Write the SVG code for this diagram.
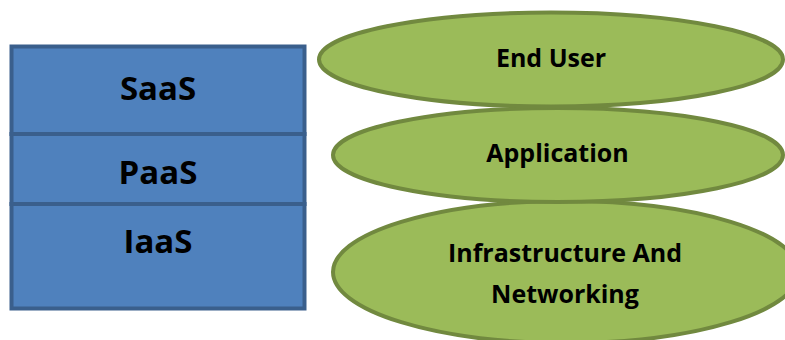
<svg xmlns="http://www.w3.org/2000/svg" width="785" height="340" viewBox="0 0 785 340">
<style>
.box{fill:#4F81BD;stroke:#3A5F8C;stroke-width:4}
.ell{fill:#9BBB59;stroke:#71893F;stroke-width:4}
.bt{font-family:"Open Sans","DejaVu Sans",sans-serif;font-weight:bold;font-size:33px;fill:#000;text-anchor:middle}
.et{font-family:"Open Sans","DejaVu Sans",sans-serif;font-weight:bold;font-size:25px;fill:#000;text-anchor:middle}
</style>
<rect width="785" height="340" fill="#fff"/>
<g id="saas"><rect class="box" x="11.5" y="46.5" width="293" height="87.5"/><text class="bt" x="158" y="100">SaaS</text></g>
<g id="paas"><rect class="box" x="11.5" y="134" width="293" height="70"/><text class="bt" x="158" y="184">PaaS</text></g>
<g id="iaas"><rect class="box" x="11.5" y="204" width="293" height="104.5"/><text class="bt" x="158" y="253">IaaS</text></g>
<g id="infra"><ellipse class="ell" cx="566" cy="272" rx="233" ry="71"/><text class="et" x="565" y="262">Infrastructure And</text><text class="et" x="565" y="303">Networking</text></g>
<g id="app"><ellipse class="ell" cx="558" cy="155" rx="225" ry="47"/><text class="et" x="557.5" y="162">Application</text></g>
<g id="enduser"><ellipse class="ell" cx="551" cy="59.5" rx="232" ry="47"/><text class="et" x="551" y="67">End User</text></g>
<g id="connectors"></g>
</svg>
